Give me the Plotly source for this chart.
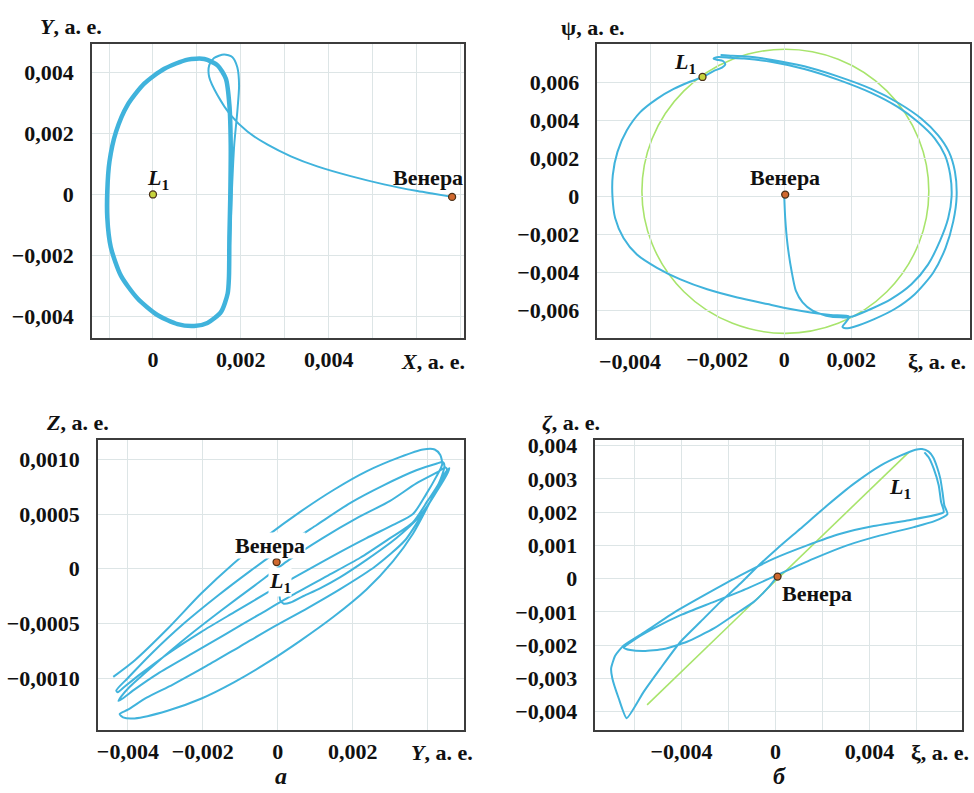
import plotly.graph_objects as go

# ---------------- data (astronomical units) ----------------
# Panel a, top: X–Y plane.  Transfer arc from Venus to the halo orbit, then the halo orbit.
P1_TRANSFER_X = [0.00681, 0.00639, 0.00602, 0.00526, 0.00450, 0.00374, 0.00314, 0.00261, 0.00215,
                 0.00177, 0.00147, 0.00128, 0.00128, 0.00139, 0.00162, 0.00181, 0.00192, 0.00196,
                 0.00192, 0.00185, 0.00180, 0.00176, 0.00173]
P1_TRANSFER_Y = [-0.00008, 0.00002, 0.00011, 0.00033, 0.00060, 0.00092, 0.00125, 0.00163, 0.00206,
                 0.00260, 0.00325, 0.00385, 0.00423, 0.00447, 0.00459, 0.00450, 0.00417, 0.00358,
                 0.00271, 0.00163, 0.00022, -0.00141, -0.00271]
P1_ORBIT_X = [0.00173, 0.00170, 0.00155, 0.00124, 0.00094, 0.00056, 0.00011, -0.00035, -0.00073,
              -0.00096, -0.00104, -0.00104, -0.00099, -0.00084, -0.00058, -0.00020, 0.00026, 0.00079,
              0.00117, 0.00147, 0.00166, 0.00174, 0.00177, 0.00176, 0.00174, 0.00173]
P1_ORBIT_Y = [-0.00271, -0.00325, -0.00385, -0.00421, -0.00431, -0.00425, -0.00396, -0.00341, -0.00266,
              -0.00173, -0.00076, 0.00011, 0.00108, 0.00206, 0.00293, 0.00363, 0.00412, 0.00442,
              0.00444, 0.00423, 0.00379, 0.00293, 0.00163, -0.00008, -0.00141, -0.00271]
P1_VENUS = [0.00681, -0.00008]
P1_L1 = [0.0, 0.0]

# Panel a, bottom: Y–Z plane
P3_Y = [-0.00439, -0.00382, -0.00294, -0.00205, -0.00117, -0.00028, 0.00060, 0.00149, 0.00237, 0.00326,
        0.00388, 0.00419, 0.00434, 0.00439,
        0.00423, 0.00396, 0.00361, 0.00308, 0.00237, 0.00149, 0.00060, -0.00028, -0.00117, -0.00205,
        -0.00294, -0.00365, -0.00409, -0.00427, -0.00431,
        -0.00400, -0.00338, -0.00250, -0.00161, -0.00073, 0.00016, 0.00104, 0.00193, 0.00281, 0.00370,
        0.00423, 0.00441, 0.00445,
        0.00430, 0.00400, 0.00360, 0.00300, 0.00220, 0.00130, 0.00040, -0.00050, -0.00140, -0.00230,
        -0.00320, -0.00380, -0.00415, -0.00425, -0.00418,
        -0.00395, -0.00330, -0.00240, -0.00150, -0.00060, 0.00030, 0.00120, 0.00210, 0.00300, 0.00370,
        0.00425, 0.00448, 0.00452,
        0.00430, 0.00390, 0.00340, 0.00260, 0.00170, 0.00080, -0.00010, -0.00100, -0.00190, -0.00280,
        -0.00350, -0.00400, -0.00422, -0.00413, -0.00382,
        -0.00294, -0.00205, -0.00117, -0.00028, 0.00060, 0.00149, 0.00237, 0.00308, 0.00361, 0.00405,
        0.00432, 0.00450, 0.00458,
        0.00454, 0.00423, 0.00379, 0.00317, 0.00237, 0.00166, 0.00113, 0.00069, 0.00034, 0.00016,
        0.00007, 0.00004, 0.00004]
P3_Z = [-0.00099, -0.00084, -0.00055, -0.00023, 0.00005, 0.00030, 0.00052, 0.00072, 0.00089, 0.00102,
        0.00109, 0.00109, 0.00104, 0.000955,
        0.00084, 0.00068, 0.00050, 0.00040, 0.00028, 0.00012, -0.00005, -0.00022, -0.00040, -0.00058,
        -0.00078, -0.00096, -0.00108, -0.00113, -0.001115,
        -0.00100, -0.00078, -0.00050, -0.00025, -0.00002, 0.00020, 0.00040, 0.00060, 0.00076, 0.00090,
        0.00096, 0.000975, 0.000935,
        0.00078, 0.00062, 0.00042, 0.00028, 0.00010, -0.00007, -0.00024, -0.00042, -0.00060, -0.00078,
        -0.00096, -0.00110, -0.00119, -0.00121, -0.00117,
        -0.00108, -0.00088, -0.00062, -0.00038, -0.00015, 0.00008, 0.00028, 0.00046, 0.00062, 0.00078,
        0.00088, 0.000925, 0.00090,
        0.00074, 0.00052, 0.00026, 0.00002, -0.00018, -0.00036, -0.00053, -0.00071, -0.00089, -0.00106,
        -0.00118, -0.00129, -0.00133, -0.00136, -0.00137,
        -0.00130, -0.00119, -0.00104, -0.00086, -0.00066, -0.00044, -0.00019, 0.00007, 0.00032, 0.00060,
        0.00079, 0.00089, 0.00092,
        0.00088, 0.00070, 0.00048, 0.00028, 0.00008, -0.00008, -0.00018, -0.00025, -0.00031, -0.00032,
        -0.00029, -0.00021, -0.000136]
P3_VENUS = [-0.00003, 0.00006]

# Panel б, top: ξ–ψ plane (Venus-centred)
P2_XI = [0.0, 0.00003, 0.00010, 0.00022, 0.00035, 0.00055, 0.00085, 0.00125, 0.00170, 0.00204,
         0.00259, 0.00319, 0.00380, 0.00430, 0.00465, 0.00490, 0.00500, 0.00496, 0.00480, 0.00450,
         0.00400, 0.00340, 0.00260, 0.00160, 0.00060, -0.00040, -0.00120, -0.00161, -0.00201, -0.00211,
         -0.00201, -0.00183, -0.00176, -0.00186, -0.00211, -0.00244, -0.00280, -0.00330, -0.00380,
         -0.00430, -0.00470, -0.00498, -0.00512, -0.00513, -0.00505, -0.00480, -0.00440, -0.00380,
         -0.00310, -0.00230, -0.00140, -0.00050, 0.00019, 0.00079, 0.00139, 0.00194, 0.00184, 0.00174,
         0.00184, 0.00209, 0.00269, 0.00330, 0.00390, 0.00445, 0.00482, 0.00505, 0.00515, 0.00510,
         0.00492, 0.00460, 0.00410, 0.00345, 0.00260, 0.00160, 0.00060, -0.00040, -0.00110, -0.00155,
         -0.00190]
P2_PSI = [0.00009, -0.00113, -0.00253, -0.00392, -0.00497, -0.00557, -0.00601, -0.00627, -0.00636, -0.00631,
          -0.00592, -0.00540, -0.00462, -0.00357, -0.00235, -0.00113, 0.00000, 0.00113, 0.00218, 0.00305,
          0.00392, 0.00470, 0.00545, 0.00615, 0.00671, 0.00709, 0.00726, 0.00730, 0.00733, 0.00725,
          0.00720, 0.00713, 0.00695, 0.00678, 0.00660, 0.00629, 0.00605, 0.00566, 0.00514, 0.00444,
          0.00348, 0.00235, 0.00113, 0.00000, -0.00113, -0.00218, -0.00305, -0.00375, -0.00436, -0.00488,
          -0.00531, -0.00566, -0.00592, -0.00610, -0.00624, -0.00632, -0.00662, -0.00685, -0.00693,
          -0.00685, -0.00645, -0.00592, -0.00514, -0.00401, -0.00270, -0.00131, 0.00000, 0.00131,
          0.00235, 0.00322, 0.00409, 0.00488, 0.00566, 0.00632, 0.00685, 0.00720, 0.00737, 0.00740,
          0.00744]
P2_L1_PATH = [-0.00425, 0.00432, -0.00720, 0.00775]   # bounding box of the L1 path: ξmin, ξmax, ψmin, ψmax
P2_VENUS = [0.00003, 0.00010]
P2_L1 = [-0.00244, 0.00629]

# Panel б, bottom: ξ–ζ plane
P4_XI = [0.00004, -0.00028, -0.00092, -0.00177, -0.00262, -0.00376, -0.00475, -0.00560, -0.00617, -0.00645,
         -0.00603, -0.00518, -0.00404, -0.00262, -0.00121, 0.00021, 0.00163, 0.00305, 0.00447, 0.00589,
         0.00674, 0.00732,
         0.00719, 0.00711, 0.00702, 0.00688, 0.00671, 0.00652, 0.00624, 0.00596,
         0.00532, 0.00447, 0.00333, 0.00220, 0.00106, 0.00007, -0.00078, -0.00149, -0.00234, -0.00319,
         -0.00404, -0.00489, -0.00560, -0.00633,
         -0.00667, -0.00694, -0.00699, -0.00682, -0.00647,
         -0.00555, -0.00427, -0.00291, -0.00149, -0.00007, 0.00135, 0.00277, 0.00418, 0.00560, 0.00716,
         0.00705, 0.00695, 0.00674, 0.00652, 0.00634]
P4_ZETA = [0.00003, -0.00025, -0.00070, -0.00110, -0.00150, -0.00190, -0.00212, -0.00218, -0.00215, -0.00208,
           -0.00185, -0.00150, -0.00110, -0.00070, -0.00030, 0.00015, 0.00060, 0.00100, 0.00130, 0.00155,
           0.00172, 0.00194,
           0.00220, 0.00260, 0.00300, 0.00335, 0.00365, 0.00382, 0.00390, 0.00388,
           0.00370, 0.00340, 0.00285, 0.00220, 0.00150, 0.00090, 0.00035, -0.00015, -0.00070, -0.00130,
           -0.00190, -0.00270, -0.00340, -0.00420,
           -0.00360, -0.00300, -0.00270, -0.00232, -0.00202,
           -0.00160, -0.00100, -0.00045, 0.00010, 0.00060, 0.00100, 0.00135, 0.00158, 0.00175, 0.00200,
           0.00230, 0.00280, 0.00330, 0.00365, 0.00380]
P4_L1_XI = [-0.00546, 0.00567]
P4_L1_ZETA = [-0.00380, 0.00380]
P4_VENUS = [0.00009, 0.00006]

# tick values / labels (major = labelled, grid = extra unlabelled grid lines)
P1_XTICKS = [0.0, 0.002, 0.004]
P1_XTEXT = ["0", "0,002", "0,004"]
P1_XGRID = [-0.001, 0.001, 0.003, 0.005, 0.006, 0.007]
P1_YTICKS = [-0.004, -0.002, 0.0, 0.002, 0.004]
P1_YTEXT = ["−0,004", "−0,002", "0", "0,002", "0,004"]
P2_XTICKS = [-0.002, 0.0, 0.002]
P2_XTEXT = ["−0,002", "0", "0,002"]
P2_XGRID = [-0.004, 0.004]
P2_YTICKS = [-0.006, -0.004, -0.002, 0.0, 0.002, 0.004, 0.006]
P2_YTEXT = ["−0,006", "−0,004", "−0,002", "0", "0,002", "0,004", "0,006"]
P3_XTICKS = [-0.004, -0.002, 0.0, 0.002]
P3_XTEXT = ["−0,004", "−0,002", "0", "0,002"]
P3_XGRID = [0.004]
P3_YTICKS = [-0.001, -0.0005, 0.0, 0.0005, 0.001]
P3_YTEXT = ["−0,0010", "−0,0005", "0", "0,0005", "0,0010"]
P4_XTICKS = [-0.004, 0.0, 0.004]
P4_XTEXT = ["−0,004", "0", "0,004"]
P4_XGRID = [-0.006, -0.002, 0.002, 0.006]
P4_YTICKS = [-0.004, -0.003, -0.002, -0.001, 0.0, 0.001, 0.002, 0.003, 0.004]
P4_YTEXT = ["−0,004", "−0,003", "−0,002", "−0,001", "0", "0,001", "0,002", "0,003", "0,004"]

# ---------------- style ----------------
BLUE = "#40b3dc"
GREEN = "#a8e46c"
GRID = "#dde5e6"
FRAME = "#3c3c3c"
SERIF = "Liberation Serif"
TICKFONT = dict(family=SERIF, size=22, color="#111111", weight="bold")
TXT = dict(family=SERIF, size=22, color="#111111", weight="bold")

fig = go.Figure()


def add_line(x, y, ax, color=BLUE, width=2.0, smooth=0.7):
    fig.add_trace(go.Scatter(x=x, y=y, xaxis="x" + ax, yaxis="y" + ax, mode="lines",
                             line=dict(color=color, width=width, shape="spline", smoothing=smooth),
                             hoverinfo="skip", showlegend=False))


def add_dot(pt, ax, fill):
    fig.add_trace(go.Scatter(x=[pt[0]], y=[pt[1]], xaxis="x" + ax, yaxis="y" + ax, mode="markers",
                             marker=dict(size=7, color=fill, line=dict(color="#4a3018", width=1.3)),
                             hoverinfo="skip", showlegend=False))


# panel 1
add_line(P1_TRANSFER_X, P1_TRANSFER_Y, "", width=2.0)
add_line(P1_ORBIT_X, P1_ORBIT_Y, "", width=4.5)
add_dot(P1_L1, "", "#c6d33c")
add_dot(P1_VENUS, "", "#d0682e")

# panel 2
add_line(P2_XI, P2_PSI, "2", width=2.0)
add_dot(P2_L1, "2", "#c6d33c")
add_dot(P2_VENUS, "2", "#d0682e")

# panel 3
add_line(P3_Y, P3_Z, "3", width=2.0)
add_dot(P3_VENUS, "3", "#d0682e")

# panel 4
add_line(P4_L1_XI, P4_L1_ZETA, "4", color=GREEN, width=1.6, smooth=0)
add_line(P4_XI, P4_ZETA, "4", width=2.0, smooth=0.5)
add_dot(P4_VENUS, "4", "#d0682e")


def axis(domain, anchor, rng, vals, text, is_x, grid=None):
    d = dict(domain=domain, anchor=anchor, range=rng, tickmode="array", tickvals=vals, ticktext=text,
             showgrid=True, gridcolor=GRID, gridwidth=1, zeroline=False, showline=True,
             linecolor=FRAME, linewidth=1.5, mirror=True, ticks="",
             ticklabelstandoff=0 if is_x else 12, tickfont=TICKFONT, fixedrange=True)
    if grid:
        d["minor"] = dict(tickmode="array", tickvals=grid, showgrid=True, gridcolor=GRID, gridwidth=1,
                          ticks="")
    return d


W, H = 974, 793
fig.update_layout(
    width=W, height=H, margin=dict(l=0, r=0, t=0, b=0),
    paper_bgcolor="white", plot_bgcolor="white", showlegend=False,
    xaxis=axis([91 / W, 463 / W], "y", [-0.00139, 0.00707], P1_XTICKS, P1_XTEXT, True, P1_XGRID),
    yaxis=axis([1 - 335 / H, 1 - 38 / H], "x", [-0.00472, 0.00494], P1_YTICKS, P1_YTEXT, False),
    xaxis2=axis([597 / W, 970 / W], "y2", [-0.00558, 0.00555], P2_XTICKS, P2_XTEXT, True, P2_XGRID),
    yaxis2=axis([1 - 335 / H, 1 - 38 / H], "x2", [-0.00747, 0.00804], P2_YTICKS, P2_YTEXT, False),
    xaxis3=axis([97 / W, 463 / W], "y3", [-0.0048, 0.00496], P3_XTICKS, P3_XTEXT, True, P3_XGRID),
    yaxis3=axis([1 - 730 / H, 1 - 437 / H], "x3", [-0.00148, 0.00118], P3_YTICKS, P3_YTEXT, False),
    xaxis4=axis([595 / W, 962 / W], "y4", [-0.00766, 0.00794], P4_XTICKS, P4_XTEXT, True, P4_XGRID),
    yaxis4=axis([1 - 730 / H, 1 - 437 / H], "x4", [-0.00457, 0.00418], P4_YTICKS, P4_YTEXT, False),
)

# green L1 path in the ξ–ψ plane
fig.add_shape(type="circle", xref="x2", yref="y2",
              x0=P2_L1_PATH[0], x1=P2_L1_PATH[1], y0=P2_L1_PATH[2], y1=P2_L1_PATH[3],
              line=dict(color=GREEN, width=1.6), layer="below")

ann = []


def paper_text(text, px, py, xanchor="left", size=22):
    f = dict(TXT)
    f["size"] = size
    ann.append(dict(text=text, x=px / W, y=1 - py / H, xref="paper", yref="paper", xanchor=xanchor,
                    yanchor="middle", showarrow=False, font=f))


def data_text(text, x, y, ax, bg=None):
    d = dict(text=text, x=x, y=y, xref="x" + ax, yref="y" + ax, xanchor="center", yanchor="middle",
             showarrow=False, font=TXT)
    if bg:
        d["bgcolor"] = bg
        d["borderpad"] = 0
    ann.append(d)


paper_text("<i>Y</i>, а. е.", 37, 21)
paper_text("<i>X</i>, а. е.", 466, 358, "right")
paper_text("ψ, а. е.", 559, 22)
paper_text("ξ, а. е.", 968, 358, "right")
paper_text("−0,004", 630, 358, "center")
paper_text("<i>Z</i>, а. е.", 43, 420)
paper_text("<i>Y</i>, а. е.", 474, 752, "right")
paper_text("<i>ζ</i>, а. е.", 540, 420)
paper_text("ξ, а. е.", 971, 752, "right")
paper_text("<i>а</i>", 280, 776, "center", 24)
paper_text("<i>б</i>", 779, 776, "center", 24)
ann.append(dict(text="−0,008", x=-0.008, y=1 - 752 / H, xref="x4", yref="paper", xanchor="center",
                yanchor="middle", showarrow=False, font=TICKFONT))

data_text("<i>L</i><sub>1</sub>", 0.00012, 0.00052, "")
data_text("Венера", 0.00627, 0.00055, "")
data_text("<i>L</i><sub>1</sub>", -0.00296, 0.00700, "2")
data_text("Венера", 0.00003, 0.00099, "2")
data_text("Венера", -0.00021, 0.00021, "3", bg="white")
data_text("<i>L</i><sub>1</sub>", 0.00005, -0.00012, "3", bg="white")
data_text("<i>L</i><sub>1</sub>", 0.00532, 0.00272, "4")
data_text("Венера", 0.00179, -0.00045, "4")

fig.update_layout(annotations=ann)

fig.write_html("out.html", config={"displayModeBar": False},
               post_script="document.body.style.margin='0';document.body.style.overflow='hidden';")
